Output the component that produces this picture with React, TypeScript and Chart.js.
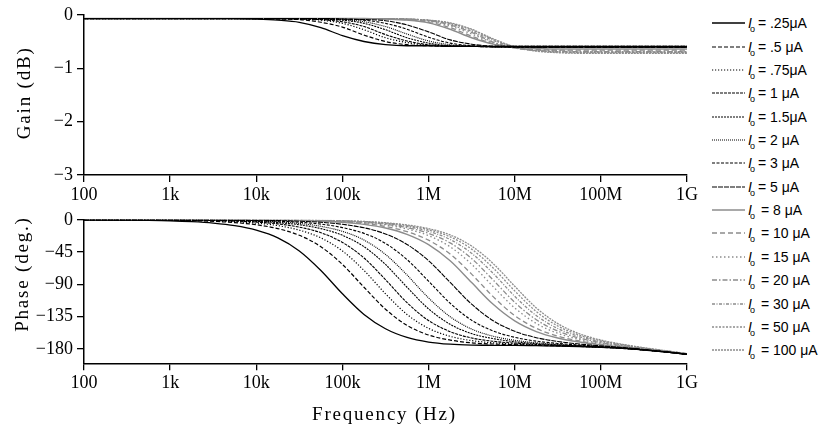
import React, { useEffect, useRef } from "react";
import { Chart, registerables } from "chart.js";

Chart.register(...registerables);

// Frequency grid (quarter-decade steps, 100 Hz to 1 GHz)
const freqHz = [
  1e2, 1.78e2, 3.16e2, 5.62e2, 1e3, 1.78e3, 3.16e3, 5.62e3, 1e4, 1.78e4, 3.16e4, 5.62e4,
  1e5, 1.78e5, 3.16e5, 5.62e5, 1e6, 1.78e6, 3.16e6, 5.62e6, 1e7, 1.78e7, 3.16e7, 5.62e7,
  1e8, 1.78e8, 3.16e8, 5.62e8, 1e9,
];

const freqTicks = [1e2, 1e3, 1e4, 1e5, 1e6, 1e7, 1e8, 1e9];
const freqTickLabels = ["100", "1k", "10k", "100k", "1M", "10M", "100M", "1G"];
const gainTicks = [0, -1, -2, -3];
const phaseTicks = [0, -45, -90, -135, -180];

const currentLabels = [
  ".25μA", ".5 μA", ".75μA", "1 μA", "1.5μA", "2 μA", "3 μA", "5 μA",
  "8 μA", "10 μA", "15 μA", "20 μA", "30 μA", "50 μA", "100 μA",
];

// Gain (dB) per bias current
const gainI025 = [-0.07, -0.07, -0.07, -0.07, -0.07, -0.07, -0.07, -0.07, -0.08, -0.10, -0.14, -0.24, -0.39, -0.50, -0.56, -0.58, -0.58, -0.59, -0.59, -0.59, -0.59, -0.59, -0.59, -0.59, -0.59, -0.59, -0.59, -0.59, -0.59];
const gainI05 = [-0.07, -0.07, -0.07, -0.07, -0.07, -0.07, -0.07, -0.07, -0.07, -0.08, -0.09, -0.14, -0.23, -0.38, -0.50, -0.56, -0.58, -0.59, -0.59, -0.59, -0.59, -0.59, -0.59, -0.59, -0.59, -0.59, -0.59, -0.59, -0.59];
const gainI075 = [-0.07, -0.07, -0.07, -0.07, -0.07, -0.07, -0.07, -0.07, -0.07, -0.07, -0.08, -0.10, -0.16, -0.28, -0.43, -0.52, -0.57, -0.58, -0.59, -0.59, -0.59, -0.59, -0.59, -0.59, -0.59, -0.59, -0.59, -0.59, -0.59];
const gainI1 = [-0.07, -0.07, -0.07, -0.07, -0.07, -0.07, -0.07, -0.07, -0.07, -0.07, -0.08, -0.09, -0.13, -0.22, -0.37, -0.49, -0.56, -0.58, -0.59, -0.60, -0.60, -0.60, -0.60, -0.60, -0.60, -0.60, -0.60, -0.60, -0.60];
const gainI1p5 = [-0.07, -0.07, -0.07, -0.07, -0.07, -0.07, -0.07, -0.07, -0.07, -0.07, -0.07, -0.08, -0.10, -0.16, -0.28, -0.43, -0.53, -0.58, -0.59, -0.60, -0.60, -0.60, -0.60, -0.60, -0.60, -0.60, -0.60, -0.60, -0.60];
const gainI2 = [-0.07, -0.07, -0.07, -0.07, -0.07, -0.07, -0.07, -0.07, -0.07, -0.07, -0.07, -0.08, -0.09, -0.13, -0.22, -0.36, -0.49, -0.56, -0.59, -0.60, -0.60, -0.60, -0.60, -0.60, -0.60, -0.60, -0.60, -0.60, -0.60];
const gainI3 = [-0.07, -0.07, -0.07, -0.07, -0.07, -0.07, -0.07, -0.07, -0.07, -0.07, -0.07, -0.07, -0.08, -0.10, -0.16, -0.27, -0.42, -0.53, -0.58, -0.60, -0.605, -0.605, -0.605, -0.605, -0.605, -0.605, -0.605, -0.605, -0.605];
const gainI5 = [-0.07, -0.07, -0.07, -0.07, -0.07, -0.07, -0.07, -0.07, -0.07, -0.07, -0.07, -0.07, -0.08, -0.09, -0.11, -0.19, -0.32, -0.47, -0.55, -0.59, -0.60, -0.61, -0.61, -0.61, -0.61, -0.61, -0.61, -0.61, -0.61];
const gainI8 = [-0.07, -0.07, -0.07, -0.07, -0.07, -0.07, -0.07, -0.07, -0.07, -0.07, -0.07, -0.07, -0.07, -0.07, -0.08, -0.10, -0.15, -0.27, -0.43, -0.55, -0.61, -0.63, -0.64, -0.64, -0.64, -0.64, -0.64, -0.64, -0.64];
const gainI10 = [-0.07, -0.07, -0.07, -0.07, -0.07, -0.07, -0.07, -0.07, -0.07, -0.07, -0.07, -0.07, -0.07, -0.07, -0.08, -0.09, -0.14, -0.24, -0.40, -0.54, -0.62, -0.65, -0.66, -0.66, -0.66, -0.66, -0.66, -0.66, -0.66];
const gainI15 = [-0.07, -0.07, -0.07, -0.07, -0.07, -0.07, -0.07, -0.07, -0.07, -0.07, -0.07, -0.07, -0.07, -0.07, -0.08, -0.09, -0.12, -0.21, -0.36, -0.52, -0.62, -0.66, -0.67, -0.68, -0.68, -0.68, -0.68, -0.68, -0.68];
const gainI20 = [-0.07, -0.07, -0.07, -0.07, -0.07, -0.07, -0.07, -0.07, -0.07, -0.07, -0.07, -0.07, -0.07, -0.07, -0.07, -0.08, -0.11, -0.19, -0.33, -0.51, -0.62, -0.67, -0.68, -0.69, -0.69, -0.69, -0.69, -0.69, -0.69];
const gainI30 = [-0.07, -0.07, -0.07, -0.07, -0.07, -0.07, -0.07, -0.07, -0.07, -0.07, -0.07, -0.07, -0.07, -0.07, -0.07, -0.08, -0.11, -0.17, -0.31, -0.48, -0.61, -0.67, -0.69, -0.70, -0.70, -0.70, -0.70, -0.70, -0.70];
const gainI50 = [-0.07, -0.07, -0.07, -0.07, -0.07, -0.07, -0.07, -0.07, -0.07, -0.07, -0.07, -0.07, -0.07, -0.07, -0.07, -0.08, -0.10, -0.16, -0.28, -0.46, -0.60, -0.67, -0.70, -0.71, -0.71, -0.71, -0.71, -0.71, -0.71];
const gainI100 = [-0.07, -0.07, -0.07, -0.07, -0.07, -0.07, -0.07, -0.07, -0.07, -0.07, -0.07, -0.07, -0.07, -0.07, -0.07, -0.08, -0.10, -0.15, -0.27, -0.45, -0.60, -0.68, -0.71, -0.72, -0.72, -0.72, -0.72, -0.72, -0.72];

// Phase (degrees) per bias current
const phaseI025 = [-0.1, -0.3, -0.5, -0.8, -1.4, -2.6, -4.6, -8.1, -14.4, -25.2, -43.4, -70.6, -103.1, -131.9, -151.8, -163.9, -170.4, -173.4, -174.6, -174.9, -175.1, -175.5, -175.9, -176.6, -177.7, -179.2, -181.5, -184.2, -187.5];
const phaseI05 = [-0.1, -0.1, -0.2, -0.4, -0.7, -1.2, -2.2, -3.9, -6.9, -12.3, -21.6, -37.5, -62.2, -94.0, -124.6, -147.1, -160.6, -167.6, -171.5, -173.1, -174.1, -174.9, -175.6, -176.5, -177.6, -179.1, -181.5, -184.2, -187.5];
const phaseI075 = [-0.1, -0.1, -0.1, -0.3, -0.5, -0.8, -1.4, -2.6, -4.6, -8.1, -14.4, -25.2, -43.4, -70.6, -103.1, -131.9, -151.3, -162.4, -168.4, -171.4, -173.1, -174.4, -175.3, -176.3, -177.5, -179.0, -181.4, -184.2, -187.5];
const phaseI1 = [0, -0.1, -0.1, -0.2, -0.3, -0.6, -1.0, -1.8, -3.2, -5.7, -10.2, -18.0, -31.5, -53.2, -83.4, -115.5, -140.4, -155.9, -164.7, -169.3, -171.9, -173.7, -174.9, -176.1, -177.4, -179.0, -181.4, -184.1, -187.5];
const phaseI1p5 = [0, 0, -0.1, -0.1, -0.2, -0.4, -0.7, -1.2, -2.2, -3.9, -6.9, -12.3, -21.6, -37.5, -62.2, -94.0, -124.1, -145.6, -158.6, -165.6, -170.0, -172.6, -174.3, -175.7, -177.2, -178.9, -181.3, -184.1, -187.4];
const phaseI2 = [0, 0, -0.1, -0.1, -0.2, -0.3, -0.5, -0.9, -1.6, -2.9, -5.1, -9.1, -16.1, -28.2, -48.2, -76.9, -108.9, -135.1, -152.3, -162.2, -167.9, -171.4, -173.6, -175.4, -177.0, -178.7, -181.2, -184.1, -187.4];
const phaseI3 = [0, 0, 0, -0.1, -0.1, -0.2, -0.3, -0.6, -1.1, -1.9, -3.4, -6.0, -10.9, -18.9, -32.9, -55.4, -85.6, -116.3, -140.0, -154.9, -163.8, -169.1, -172.3, -174.6, -176.6, -178.5, -181.1, -184.0, -187.4];
const phaseI5 = [0, 0, 0, 0, -0.1, -0.1, -0.2, -0.4, -0.6, -1.1, -2.0, -3.5, -6.3, -11.1, -19.7, -34.3, -57.0, -87.2, -117.6, -140.6, -155.4, -164.3, -169.6, -173.1, -175.7, -178.0, -180.8, -183.8, -187.3];
const phaseI8 = [0, 0, 0, 0, 0, -0.1, -0.1, -0.2, -0.4, -0.6, -1.2, -2.0, -3.6, -6.4, -11.4, -20.2, -34.6, -57.2, -87.5, -117.8, -140.9, -155.8, -164.8, -170.4, -174.2, -177.2, -180.4, -183.6, -187.1];
const phaseI10 = [0, 0, 0, 0, 0, -0.1, -0.1, -0.2, -0.3, -0.5, -0.9, -1.7, -3.0, -5.2, -9.3, -16.5, -28.4, -47.7, -75.7, -107.1, -133.5, -151.3, -162.2, -168.9, -173.3, -176.7, -180.1, -183.4, -187.1];
const phaseI15 = [0, 0, 0, 0, 0, 0, -0.1, -0.1, -0.2, -0.4, -0.7, -1.3, -2.3, -4.1, -7.2, -12.8, -22.1, -37.6, -62.0, -93.1, -122.8, -144.5, -158.2, -166.6, -172.1, -176.0, -179.7, -183.2, -186.9];
const phaseI20 = [0, 0, 0, 0, 0, 0, -0.1, -0.1, -0.2, -0.4, -0.6, -1.1, -2.0, -3.5, -6.2, -10.9, -18.8, -32.2, -54.0, -83.9, -115.0, -139.3, -155.1, -164.8, -171.1, -175.4, -179.4, -183.0, -186.8];
const phaseI30 = [0, 0, 0, 0, 0, 0, -0.1, -0.1, -0.2, -0.3, -0.5, -0.9, -1.7, -3.0, -5.2, -9.3, -16.0, -27.4, -46.7, -74.7, -106.6, -133.5, -151.5, -162.8, -169.9, -174.7, -179.0, -182.8, -186.7];
const phaseI50 = [0, 0, 0, 0, 0, 0, -0.1, -0.1, -0.1, -0.3, -0.5, -0.8, -1.4, -2.6, -4.6, -8.1, -13.9, -23.7, -40.9, -67.1, -99.1, -127.9, -148.0, -160.7, -168.7, -174.1, -178.6, -182.6, -186.6];
const phaseI100 = [0, 0, 0, 0, 0, 0, 0, -0.1, -0.1, -0.2, -0.4, -0.7, -1.3, -2.3, -4.1, -7.2, -12.3, -21.1, -36.6, -61.0, -92.6, -122.8, -144.7, -158.8, -167.6, -173.5, -178.3, -182.4, -186.5];

const gainSeries = [gainI025, gainI05, gainI075, gainI1, gainI1p5, gainI2, gainI3, gainI5, gainI8, gainI10, gainI15, gainI20, gainI30, gainI50, gainI100];
const phaseSeries = [phaseI025, phaseI05, phaseI075, phaseI1, phaseI1p5, phaseI2, phaseI3, phaseI5, phaseI8, phaseI10, phaseI15, phaseI20, phaseI30, phaseI50, phaseI100];

// Line styles, one per bias current
const BLACK = "#000000";
const GREY = "#8c8c8c";
const lineStyles = [
  { color: BLACK, dash: [] as number[], width: 1.3 },
  { color: BLACK, dash: [4, 2], width: 1.2 },
  { color: BLACK, dash: [1.2, 1.8], width: 1.2 },
  { color: BLACK, dash: [3, 1], width: 1.1 },
  { color: BLACK, dash: [2, 1], width: 1.1 },
  { color: BLACK, dash: [1, 1], width: 1.1 },
  { color: BLACK, dash: [3, 1.5], width: 1.1 },
  { color: BLACK, dash: [5, 1], width: 1.1 },
  { color: GREY, dash: [], width: 1.4 },
  { color: GREY, dash: [5, 3], width: 1.3 },
  { color: GREY, dash: [1.5, 2.5], width: 1.3 },
  { color: GREY, dash: [5, 2, 1.5, 2], width: 1.3 },
  { color: GREY, dash: [3, 1.5, 1, 1.5], width: 1.3 },
  { color: GREY, dash: [2, 1.5], width: 1.3 },
  { color: GREY, dash: [2, 1], width: 1.3 },
];

const SERIF = '"Liberation Serif", "Times New Roman", serif';
const SANS = '"Liberation Sans", Arial, sans-serif';

const minus = (v: number) => (v < 0 ? "\u2212" + Math.abs(v) : String(v));

function drawCaption(ctx: CanvasRenderingContext2D, text: string, x: number, y: number, vertical: boolean) {
  ctx.save();
  ctx.translate(x, y);
  if (vertical) ctx.rotate(-Math.PI / 2);
  ctx.font = `19px ${SERIF}`;
  ctx.fillStyle = "#000";
  ctx.textAlign = "center";
  ctx.textBaseline = "middle";
  (ctx as any).letterSpacing = "1.8px";
  ctx.fillText(text, 0, 0);
  ctx.restore();
}

type PanelCfg = {
  series: number[][];
  yMin: number;
  yMax: number;
  yTicks: number[];
  padTop: number;
  xAxisHeight: number;
  captions: (chart: Chart) => void;
};

function buildChart(canvas: HTMLCanvasElement, cfg: PanelCfg) {
  const datasets = cfg.series.map((vals, k) => ({
    label: currentLabels[k],
    data: freqHz.map((f, i) => ({ x: f, y: vals[i] })),
    borderColor: lineStyles[k].color,
    borderDash: lineStyles[k].dash,
    borderWidth: lineStyles[k].width,
    pointRadius: 0,
    fill: false,
    cubicInterpolationMode: "monotone" as const,
  }));
  const tickFont = { family: SERIF, size: 18 };
  return new Chart(canvas, {
    type: "line",
    data: { datasets },
    options: {
      responsive: false,
      animation: false,
      devicePixelRatio: 1,
      layout: { padding: { top: cfg.padTop, right: 12, left: 0, bottom: 0 } },
      plugins: { legend: { display: false }, tooltip: { enabled: false } },
      scales: {
        x: {
          type: "logarithmic",
          min: 100,
          max: 1e9,
          afterBuildTicks: (s: any) => {
            s.ticks = freqTicks.map((v) => ({ value: v }));
          },
          afterFit: (s: any) => {
            s.height = cfg.xAxisHeight;
          },
          ticks: {
            callback: (_v: any, i: number) => freqTickLabels[i],
            font: tickFont,
            color: "#000",
            padding: 2,
            maxRotation: 0,
            autoSkip: false,
          },
          grid: { drawOnChartArea: false, drawTicks: true, tickLength: 7, color: "#000", lineWidth: 1.3 },
          border: { display: true, color: "#000", width: 1.5 },
        },
        y: {
          type: "linear",
          min: cfg.yMin,
          max: cfg.yMax,
          afterBuildTicks: (s: any) => {
            s.ticks = cfg.yTicks.map((v) => ({ value: v }));
          },
          afterFit: (s: any) => {
            s.width = 84;
          },
          ticks: {
            callback: (v: any) => minus(Number(v)),
            font: tickFont,
            color: "#000",
            padding: 4,
          },
          grid: { drawOnChartArea: false, drawTicks: true, tickLength: 7, color: "#000", lineWidth: 1.3 },
          border: { display: true, color: "#000", width: 1.5 },
        },
      },
    },
    plugins: [{ id: "captions", afterDraw: (chart: Chart) => cfg.captions(chart) }],
  });
}

function Legend() {
  return (
    <div style={{ position: "absolute", left: 712, top: 0 }}>
      {currentLabels.map((lab, k) => {
        const st = lineStyles[k];
        return (
          <div
            key={lab}
            style={{
              position: "absolute",
              left: 0,
              top: 23.3 + 23.35 * k - 10,
              height: 20,
              display: "flex",
              alignItems: "center",
              whiteSpace: "nowrap",
              fontFamily: SANS,
              fontSize: 14,
              color: "#000",
            }}
          >
            <svg width={33} height={20} style={{ display: "block" }}>
              <line
                x1={0}
                y1={10}
                x2={33}
                y2={10}
                stroke={st.color}
                strokeWidth={st.width}
                strokeDasharray={st.dash.length ? st.dash.join(" ") : undefined}
              />
            </svg>
            <span style={{ fontStyle: "italic", marginLeft: 3 }}>I</span>
            <span style={{ fontSize: 9, position: "relative", top: 6, marginLeft: -2 }}>o</span>
            <span style={{ marginLeft: k < 8 ? 3 : 6 }}>= {lab}</span>
          </div>
        );
      })}
    </div>
  );
}

export default function App() {
  const gainRef = useRef<HTMLCanvasElement>(null);
  const phaseRef = useRef<HTMLCanvasElement>(null);

  useEffect(() => {
    const gainChart = buildChart(gainRef.current!, {
      series: gainSeries,
      yMin: -3,
      yMax: 0,
      yTicks: gainTicks,
      padTop: 14,
      xAxisHeight: 30,
      captions: (chart) => {
        const a = chart.chartArea;
        drawCaption(chart.ctx, "Gain (dB)", a.left - 59, a.top + 78, true);
      },
    });
    const phaseChart = buildChart(phaseRef.current!, {
      series: phaseSeries,
      yMin: -200,
      yMax: 0,
      yTicks: phaseTicks,
      padTop: 12.7,
      xAxisHeight: 63.7,
      captions: (chart) => {
        const a = chart.chartArea;
        drawCaption(chart.ctx, "Phase (deg.)", a.left - 61, a.top + 54.3, true);
        drawCaption(chart.ctx, "Frequency (Hz)", (a.left + a.right) / 2 - 1, a.bottom + 51.7, false);
      },
    });
    return () => {
      gainChart.destroy();
      phaseChart.destroy();
    };
  }, []);

  return (
    <div style={{ position: "absolute", left: 0, top: 0, width: 821, height: 427, background: "#fff", overflow: "hidden" }}>
      <canvas
        ref={gainRef}
        width={700}
        height={205}
        style={{ position: "absolute", left: 0, top: 0, width: 700, height: 205 }}
      />
      <canvas
        ref={phaseRef}
        width={700}
        height={222}
        style={{ position: "absolute", left: 0, top: 205, width: 700, height: 222 }}
      />
      <Legend />
    </div>
  );
}
